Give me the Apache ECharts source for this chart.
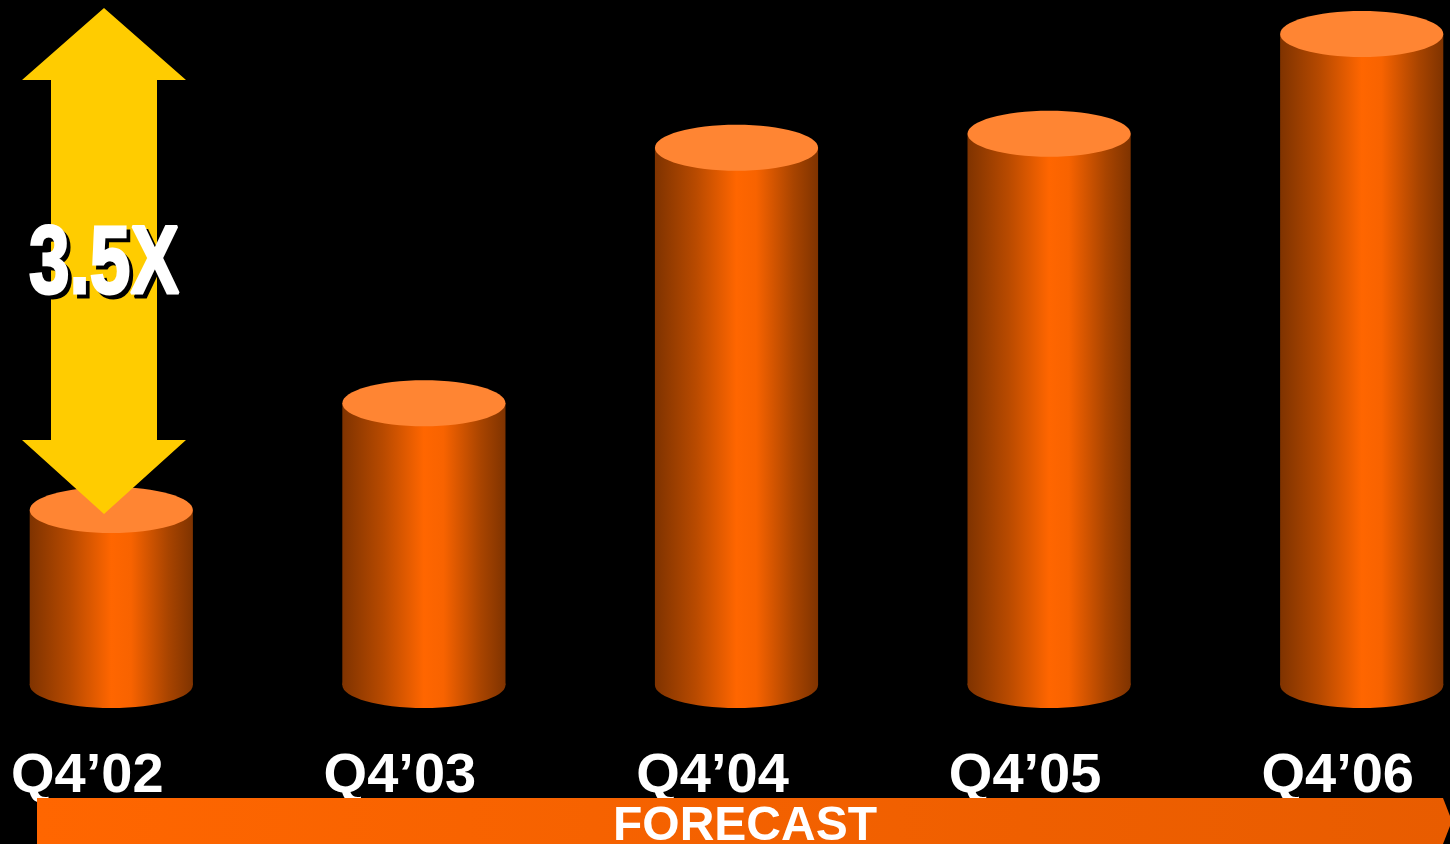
<!DOCTYPE html>
<html>
<head>
<meta charset="utf-8">
<script src="https://cdn.jsdelivr.net/npm/echarts@6/dist/echarts.min.js"></script>
<style>
html,body{margin:0;padding:0;background:#000;}
#chart{width:1450px;height:844px;}
</style>
</head>
<body>
<div id="chart"></div>
<script>
const categories = ['Q4’02', 'Q4’03', 'Q4’04', 'Q4’05', 'Q4’06'];
const values = [1.00, 1.61, 3.07, 3.15, 3.72];
const multipleLabel = '3.5X';
const bandLabel = 'FORECAST';

const chart = echarts.init(document.getElementById('chart'));

const bodyGradient = () => new echarts.graphic.LinearGradient(0, 0, 1, 0, [
  {offset: 0, color: '#7f3300'},
  {offset: 0.25, color: '#b84a00'},
  {offset: 0.5, color: '#ff6600'},
  {offset: 0.62, color: '#f86300'},
  {offset: 0.85, color: '#a84400'},
  {offset: 1, color: '#7f3300'}
]);

const option = {
  backgroundColor: '#000',
  animation: false,
  grid: {left: -45, right: -68, top: 0, bottom: 159, containLabel: false, outerBoundsMode: 'none'},
  xAxis: {
    type: 'category',
    data: categories,
    axisLine: {show: false},
    axisTick: {show: false},
    splitLine: {show: false},
    axisLabel: {
      color: '#fff',
      fontSize: 56,
      fontWeight: 'bold',
      fontFamily: 'Liberation Sans, Arial, sans-serif',
      margin: 64,
      padding: [0, 48, 0, 0],
      hideOverlap: false
    }
  },
  yAxis: {type: 'value', min: 0, max: 3.914, show: false},
  series: [{
    type: 'custom',
    data: values.map((v, i) => [i, v]),
    encode: {x: 0, y: 1},
    renderItem: function (params, api) {
      const i = api.value(0), v = api.value(1);
      const top = api.coord([i, v]);
      const base = api.coord([i, 0]);
      const w = api.size([1, 0])[0] * 0.522;
      const rx = w / 2, ry = 23;
      return {
        type: 'group',
        children: [
          {type: 'ellipse', shape: {cx: base[0], cy: base[1], rx: rx, ry: ry}, style: {fill: bodyGradient()}},
          {type: 'rect', shape: {x: base[0] - rx, y: top[1], width: w, height: base[1] - top[1]}, style: {fill: bodyGradient()}},
          {type: 'ellipse', shape: {cx: top[0], cy: top[1], rx: rx, ry: ry}, style: {fill: '#ff8533'}}
        ]
      };
    }
  }],
  graphic: [
    {
      type: 'polygon',
      shape: {points: [[104, 8], [186, 80], [157, 80], [157, 440], [186, 440], [104, 514], [22, 440], [51, 440], [51, 80], [22, 80]]},
      style: {fill: '#ffcc00'},
      z: 10
    },
    {
      type: 'group',
      x: 104, y: 267, scaleX: 0.76,
      z: 11,
      children: [
        {type: 'text', x: 5, y: 4, style: {text: multipleLabel, fill: '#000', stroke: '#000', lineWidth: 3, font: 'bold 96px "Liberation Sans", Arial, sans-serif', textAlign: 'center', textVerticalAlign: 'middle'}, z: 11},
        {type: 'text', x: 0, y: 0, style: {text: multipleLabel, fill: '#fff', stroke: '#fff', lineWidth: 3, font: 'bold 96px "Liberation Sans", Arial, sans-serif', textAlign: 'center', textVerticalAlign: 'middle'}, z: 12}
      ]
    },
    {
      type: 'polygon',
      shape: {points: [[37, 798], [1443, 798], [1452, 821], [1443, 844], [37, 844]]},
      style: {fill: new echarts.graphic.LinearGradient(0, 0, 1, 0, [{offset: 0, color: '#ff6600'}, {offset: 1, color: '#e85c00'}])},
      z: 10
    },
    {
      type: 'text',
      x: 745, y: 827,
      style: {text: bandLabel, fill: '#fff', font: 'bold 48px "Liberation Sans", Arial, sans-serif', textAlign: 'center', textVerticalAlign: 'middle'},
      z: 11
    }
  ]
};
chart.setOption(option);
</script>
</body>
</html>
